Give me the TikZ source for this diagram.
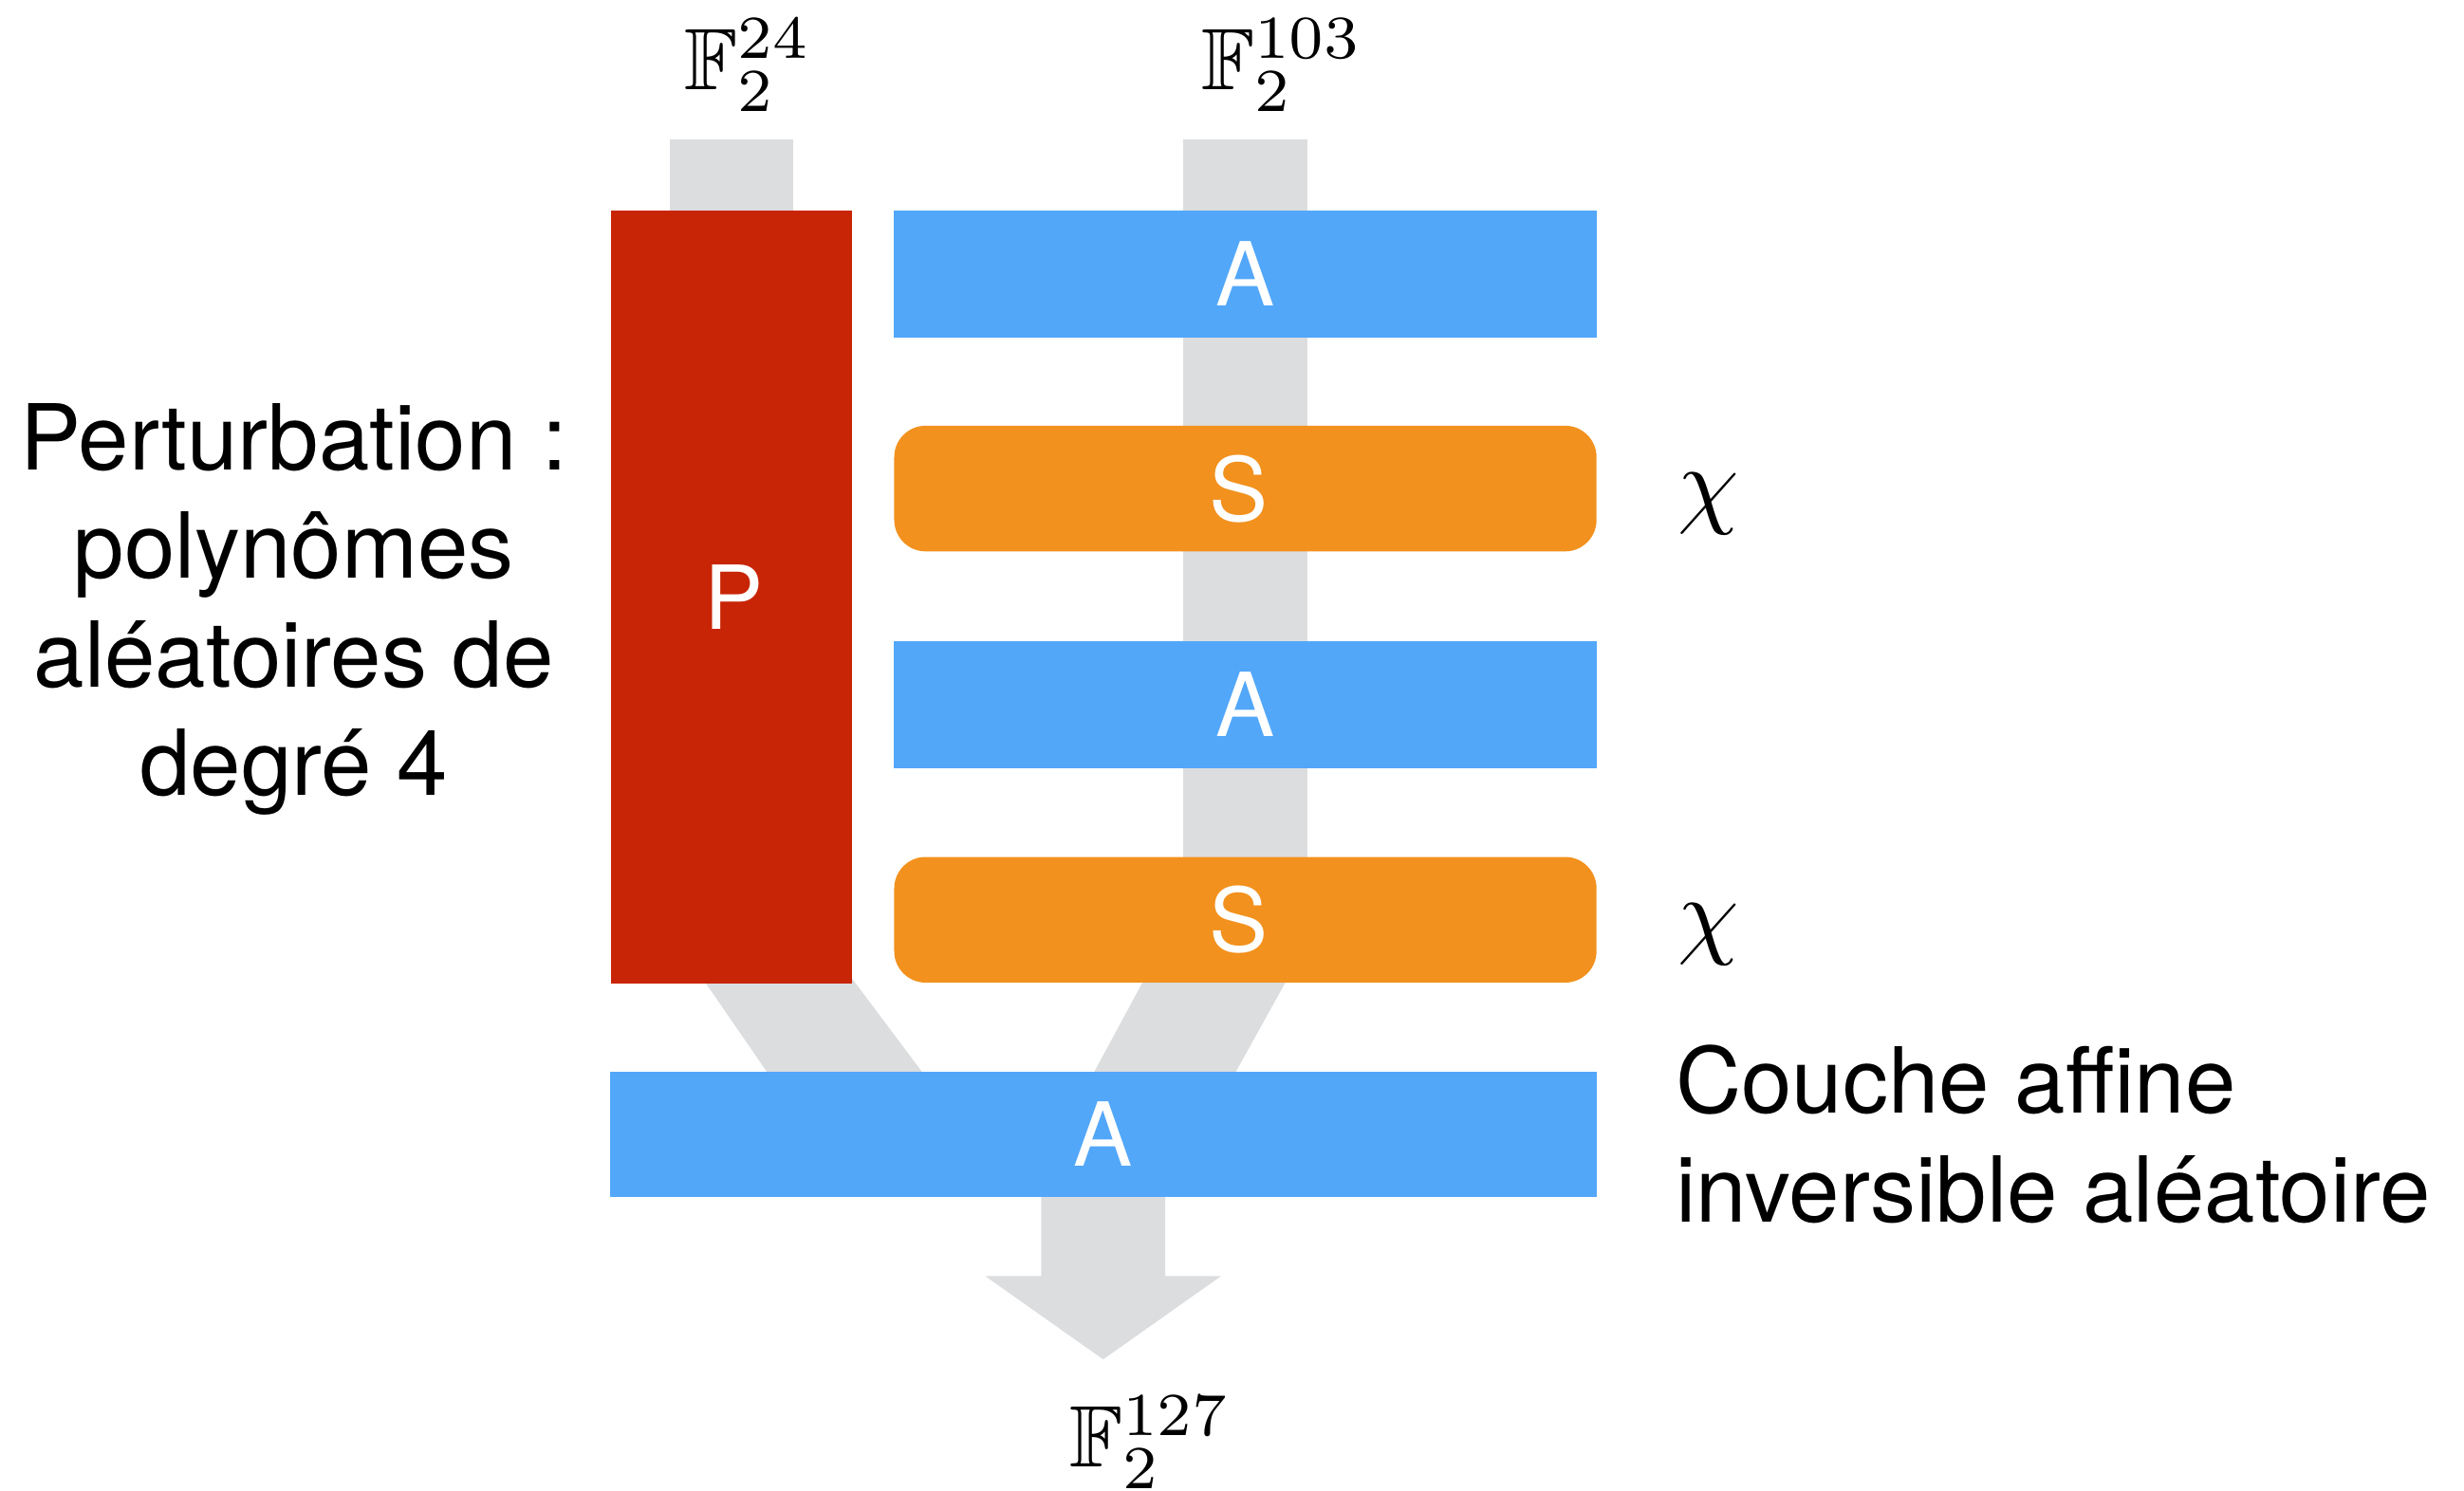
\documentclass[tikz,border=0pt]{standalone}
\usepackage{amssymb}
\usepackage{graphicx}
\usepackage{fontspec}
\setmainfont{TeX Gyre Heros}
\usetikzlibrary{calc}
\pgfdeclarelayer{background}
\pgfsetlayers{background,main}
\definecolor{permred}{RGB}{200,37,6}
\definecolor{affblue}{RGB}{82,167,249}
\definecolor{sorange}{RGB}{242,145,29}
\definecolor{flowgray}{RGB}{220,221,223}
% formulas are set at text size and enlarged as a whole
\newcommand{\bigmath}[2]{\scalebox{#1}{$#2$}}
\begin{document}
\begin{tikzpicture}[x=0.02cm,y=-0.02cm,
  box/.style={inner sep=0, text=white, font=\fontsize{32}{38}\selectfont},
  perm/.style={box, fill=permred, minimum width=3.06cm, minimum height=9.84cm},
  affine/.style={box, fill=affblue, minimum width=8.94cm, minimum height=1.62cm},
  sbox/.style={box, fill=sorange, rounded corners=0.4cm, minimum width=8.94cm, minimum height=1.6cm},
  flow/.style={fill=flowgray},
  lbl/.style={inner sep=0, font=\fontsize{33}{39.3}\selectfont},
  field/.style={inner sep=0, anchor=base}]
\useasboundingbox (0,0) rectangle (1568,949);

% layers of the construction
\node[perm] (P) at (465.5,380) {\hspace*{0.05cm}P};
\node[affine] (A1) at (792.5,174.5) {A};
\node[sbox] (S1) at (792.5,311) {\hspace*{-0.18cm}S};
\node[affine] (A2) at (792.5,448.5) {A};
\node[sbox] (S2) at (792.5,585.5) {\hspace*{-0.18cm}S};
\node[affine, minimum width=12.56cm, minimum height=1.6cm] (A3) at (702,722) {A};

% input and output spaces
\node[field] (F24) at (476,57) {\bigmath{3.16}{\mathbb{F}_2^{24}}};
\node[field] (F103) at (816,57) {\bigmath{3.16}{\mathbb{F}_2^{103}}};
\node[field] (F127) at (732,934) {\bigmath{3.16}{\mathbb{F}_2^{127}}};

% S-box annotations
\node[field] (chi1) at (1087,328) {\bigmath{3.55}{\chi}};
\node[field] (chi2) at (1087,602.5) {\bigmath{3.55}{\chi}};

% descriptions
\node[lbl, align=center] (pert) at (187,388) {Perturbation :\\polynômes\\aléatoires de\\degré 4};
\node[lbl, align=left, anchor=west] (couche) at (1066,722) {Couche affine\\inversible aléatoire};

% data flow behind the boxes
\begin{pgfonlayer}{background}
  \fill[flow] ($(P.north)+(-39.5,-45)$) rectangle ($(P.north)+(39.5,5)$);
  \fill[flow] ($(A1.north)+(-39.5,-45)$) rectangle ($(S2.center)+(39.5,0)$);
  \fill[flow] ($(P.south)+(-19.5,-5)$) -- ($(P.south)+(75.5,-5)$)
    -- ($(A3.north)+(-112,5)$) -- ($(A3.north)+(-211,5)$) -- cycle;
  \fill[flow] ($(S2.south)+(-63,-5)$) -- ($(S2.south)+(28,-5)$)
    -- ($(A3.north)+(82,5)$) -- ($(A3.north)+(-8,5)$) -- cycle;
  \fill[flow] ($(A3.south)+(-39.5,-5)$) -- ($(A3.south)+(39.5,-5)$)
    -- ($(A3.south)+(39.5,50)$) -- ($(A3.south)+(75,50)$)
    -- ($(A3.south)+(0,103)$) -- ($(A3.south)+(-75,50)$)
    -- ($(A3.south)+(-39.5,50)$) -- cycle;
\end{pgfonlayer}
\end{tikzpicture}
\end{document}
